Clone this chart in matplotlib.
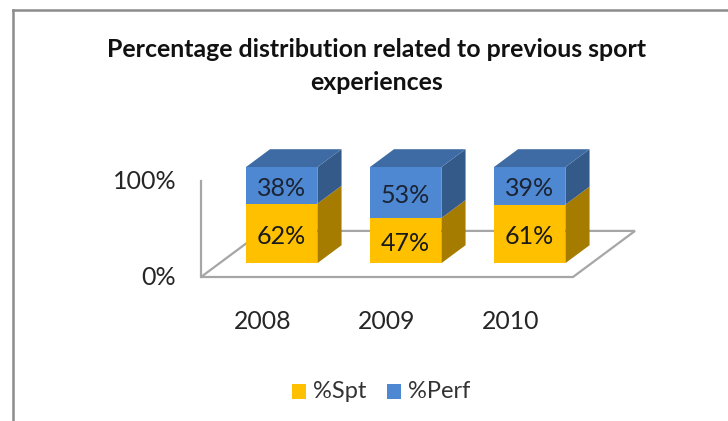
import matplotlib
matplotlib.use("Agg")
import matplotlib.pyplot as plt
from matplotlib.patches import Polygon, Rectangle

# values
years = ["2008", "2009", "2010"]
spt = [62, 47, 61]
perf = [38, 53, 39]
title = "Percentage distribution related to previous sport\nexperiences"

W, H = 728, 421
plt.rcParams["font.family"] = ["Lato", "DejaVu Sans"]

fig = plt.figure(figsize=(W / 100, H / 100), dpi=100)

# plot box in pixels: wall axis x=201, y 181..277, floor front edge to x=573
ax = fig.add_axes([201 / W, 1 - 277 / H, 372 / W, 96 / H])
ax.set_xlim(0, 3)
ax.set_ylim(0, 100)
ax.axis("off")

# oblique projection, depth 0 is the front of the floor, 1 the back
DX, DY = 0.5, 48.0
def proj(x, y, d):
    return (x + DX * d, y + DY * d)

def face(pts, color, z):
    ax.add_patch(Polygon([proj(*p) for p in pts], closed=True, facecolor=color,
                         edgecolor="none", zorder=z, clip_on=False))

# floor and wall
grey = "#A6A6A6"
floor = [proj(0, 0, 0), proj(3, 0, 0), proj(3, 0, 1), proj(0, 0, 1)]
ax.add_patch(Polygon(floor, closed=True, facecolor="white", edgecolor=grey, lw=1.6, zorder=1, clip_on=False))
ax.plot([0, 0], [0, 100], color=grey, lw=1.6, zorder=1, clip_on=False)

# stacked boxes
bw = 0.577
d0, d1 = 0.30, 0.69
label_shift = 3
for i in range(len(years)):
    x0 = i + 0.5 - bw / 2
    x1 = x0 + bw
    s = spt[i]
    t = spt[i] + perf[i]
    face([(x1, 0, d0), (x1, 0, d1), (x1, s, d1), (x1, s, d0)], "#A67C00", 3)
    face([(x1, s, d0), (x1, s, d1), (x1, t, d1), (x1, t, d0)], "#345A89", 3)
    face([(x0, t, d0), (x1, t, d0), (x1, t, d1), (x0, t, d1)], "#3E6BA3", 3)
    face([(x0, 0, d0), (x1, 0, d0), (x1, s, d0), (x0, s, d0)], "#FFC000", 4)
    face([(x0, s, d0), (x1, s, d0), (x1, t, d0), (x0, t, d0)], "#4F88D2", 4)
    cx = proj((x0 + x1) / 2, 0, d0)[0]
    ax.text(cx, proj(0, s / 2, d0)[1] - label_shift, f"{spt[i]}%", ha="center", va="center",
            fontsize=18, color="#1A1A1A", zorder=5)
    ax.text(cx, proj(0, s + perf[i] / 2, d0)[1] - label_shift, f"{perf[i]}%", ha="center", va="center",
            fontsize=18, color="#1A2435", zorder=5)
    ax.text(i + 0.5, -46, years[i], ha="center", va="center", fontsize=17.8, color="#262626")

for v in [0, 100]:
    ax.text(-0.2, v - 1, f"{v}%", ha="right", va="center", fontsize=18, color="#262626")

# title and legend in figure pixels
fig.text(377 / W, 1 - 66 / H, title, ha="center", va="center", fontsize=17.9, fontweight="bold",
         color="#111111", linespacing=1.55)
for xp, col, lab in [(292, "#FFC000", "%Spt"), (387, "#4F88D2", "%Perf")]:
    fig.add_artist(Rectangle((xp / W, 1 - 399 / H), 14 / W, 15 / H, transform=fig.transFigure,
                             facecolor=col, edgecolor="none"))
    fig.text((xp + 21) / W, 1 - 391 / H, lab, ha="left", va="center", fontsize=17, color="#333333")

# outer chart border, left and top only
bc = "#8C8C8C"
fig.add_artist(plt.Line2D([13 / W, 13 / W], [0, 1 - 10 / H], transform=fig.transFigure, color=bc, lw=1.8))
fig.add_artist(plt.Line2D([13 / W, 1], [1 - 10 / H, 1 - 10 / H], transform=fig.transFigure, color=bc, lw=1.8))

fig.savefig("out.png", dpi=100)
